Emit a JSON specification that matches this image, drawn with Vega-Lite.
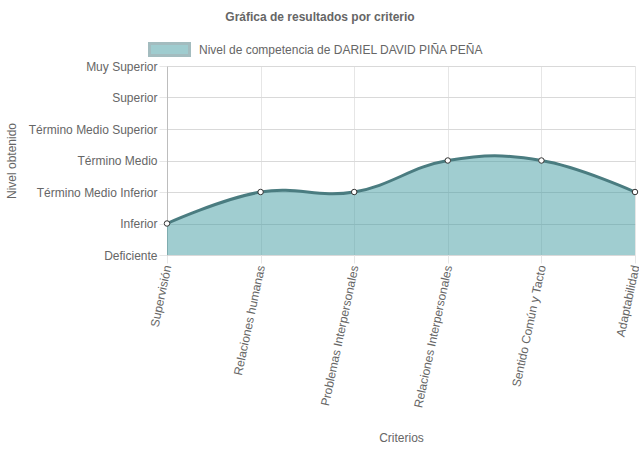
{
  "$schema": "https://vega.github.io/schema/vega-lite/v6.json",
  "autosize": {"type": "none"},
  "width": 468,
  "height": 189,
  "padding": {"left": 167, "top": 66, "right": 4, "bottom": 194},
  "background": "white",
  "title": {
    "text": "Gráfica de resultados por criterio",
    "font": "Liberation Sans",
    "fontSize": 12,
    "fontWeight": "bold",
    "color": "#666666",
    "anchor": "middle",
    "dx": -81,
    "offset": 4
  },
  "config": {
    "view": {"stroke": null},
    "axis": {
      "labelFont": "Liberation Sans",
      "labelFontSize": 12,
      "labelColor": "#666666",
      "titleFont": "Liberation Sans",
      "titleFontSize": 12,
      "titleFontWeight": "normal",
      "titleColor": "#666666",
      "gridColor": "#e6e6e6",
      "tickColor": "#e6e6e6",
      "domainColor": "#bdbdbd"
    }
  },
  "data": {
    "values": [
      {"criterio": "Supervisión", "nivel": 1, "serie": "Nivel de competencia de DARIEL DAVID PIÑA PEÑA"},
      {"criterio": "Relaciones humanas", "nivel": 2, "serie": "Nivel de competencia de DARIEL DAVID PIÑA PEÑA"},
      {"criterio": "Problemas Interpersonales", "nivel": 2, "serie": "Nivel de competencia de DARIEL DAVID PIÑA PEÑA"},
      {"criterio": "Relaciones Interpersonales", "nivel": 3, "serie": "Nivel de competencia de DARIEL DAVID PIÑA PEÑA"},
      {"criterio": "Sentido Común y Tacto", "nivel": 3, "serie": "Nivel de competencia de DARIEL DAVID PIÑA PEÑA"},
      {"criterio": "Adaptabilidad", "nivel": 2, "serie": "Nivel de competencia de DARIEL DAVID PIÑA PEÑA"}
    ]
  },
  "encoding": {
    "x": {
      "field": "criterio",
      "type": "ordinal",
      "sort": null,
      "scale": {"type": "point", "padding": 0},
      "axis": {
        "title": "Criterios",
        "titleY": 186,
        "titleBaseline": "alphabetic",
        "labelAngle": -78,
        "labelAlign": "right",
        "labelBaseline": "middle",
        "labelPadding": 2,
        "tickSize": 8,
        "grid": true,
        "domain": false
      }
    },
    "y": {
      "field": "nivel",
      "type": "quantitative",
      "scale": {"domain": [0, 6], "nice": false, "zero": true},
      "axis": {
        "title": "Nivel obtenido",
        "titlePadding": 10,
        "values": [0, 1, 2, 3, 4, 5, 6],
        "labelExpr": "['Deficiente','Inferior','Término Medio Inferior','Término Medio','Término Medio Superior','Superior','Muy Superior'][datum.value]",
        "tickSize": 8,
        "labelPadding": 2,
        "grid": true,
        "gridColor": "#d9d9d9",
        "domainColor": "#bdbdbd"
      }
    }
  },
  "layer": [
    {
      "mark": {"type": "area", "interpolate": "cardinal", "tension": -0.2, "color": "#419ba1", "opacity": 0.5, "stroke": "#4a7c80", "strokeWidth": 0},
      "encoding": {
        "color": {
          "field": "serie",
          "type": "nominal",
          "scale": {"range": ["#419ba1"]},
          "legend": {
            "title": null,
            "orient": "none",
            "legendX": -19,
            "legendY": -38,
            "direction": "horizontal",
            "symbolType": "M-1,-0.3H1V0.3H-1Z",
            "symbolSize": 1600,
            "symbolStrokeWidth": 3,
            "symbolStrokeColor": "#4a7c80",
            "symbolFillColor": "#a0cdd0",
            "labelFont": "Liberation Sans",
            "labelFontSize": 12,
            "labelColor": "#666666",
            "labelOffset": 8,
            "labelLimit": 400,
            "encode": {
              "symbols": {
                "update": {
                  "fill": {"value": "#a0cdd0"},
                  "stroke": {"value": "#4a7c80"},
                  "strokeWidth": {"value": 3},
                  "opacity": {"value": 1},
                  "fillOpacity": {"value": 1},
                  "strokeOpacity": {"value": 1}
                }
              }
            }
          }
        }
      }
    },
    {
      "mark": {"type": "line", "interpolate": "cardinal", "tension": -0.2, "color": "#4a7c80", "strokeWidth": 3}
    },
    {
      "mark": {"type": "point", "filled": true, "fill": "white", "stroke": "#333333", "strokeWidth": 1, "size": 30, "opacity": 1}
    }
  ]
}
